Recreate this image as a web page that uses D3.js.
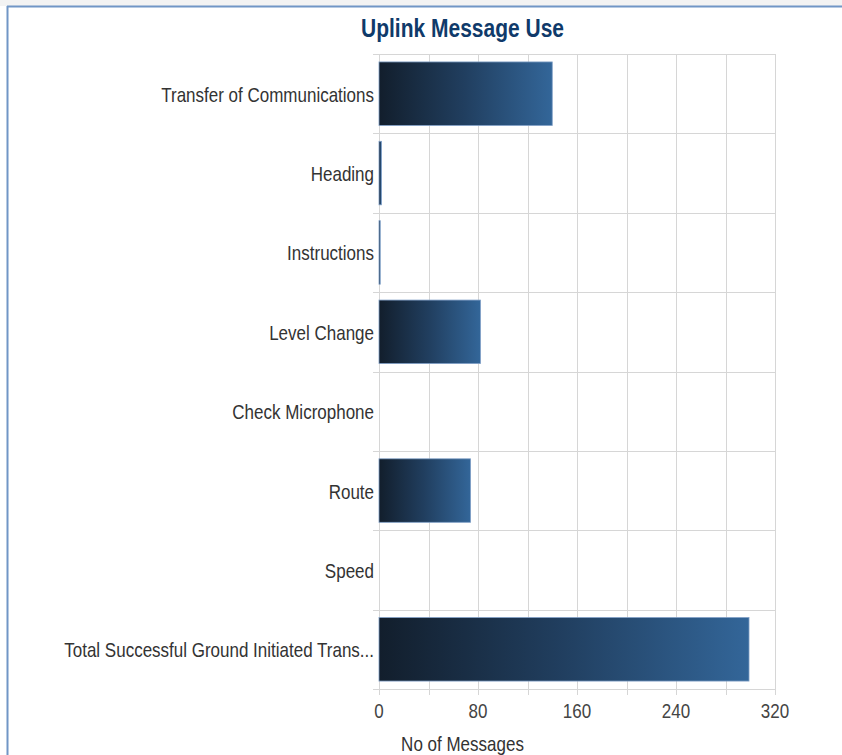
<!DOCTYPE html>
<html>
<head>
<meta charset="utf-8">
<script src="https://cdn.jsdelivr.net/npm/d3@7"></script>
<style>
  html, body { margin: 0; padding: 0; background: #ffffff; }
  svg { display: block; font-family: "Liberation Sans", Arial, Helvetica, sans-serif; }
</style>
</head>
<body>
<svg id="chart" width="842" height="755"></svg>
<script>
const categories = [
  "Transfer of Communications",
  "Heading",
  "Instructions",
  "Level Change",
  "Check Microphone",
  "Route",
  "Speed",
  "Total Successful Ground Initiated Trans..."
];
const values = [140, 2, 1, 82, 0, 74, 0, 299];
const xTicks = [0, 80, 160, 240, 320];
const xGrid = [0, 40, 80, 120, 160, 200, 240, 280, 320];
const titleText = "Uplink Message Use";
const xAxisTitle = "No of Messages";

const svg = d3.select("#chart");
const W = 842, H = 755;
const plot = { left: 379, right: 775, top: 54, bottom: 689 };
const SY = 1.2; // vertical text stretch seen in the reference

// frame
svg.append("rect").attr("x", 0).attr("y", 0).attr("width", W).attr("height", 6).attr("fill", "#f3f3f3");
svg.append("line").attr("x1", 7).attr("x2", W).attr("y1", 6.5).attr("y2", 6.5)
  .attr("stroke", "#7196c6").attr("stroke-width", 2);
svg.append("line").attr("x1", 7.5).attr("x2", 7.5).attr("y1", 6).attr("y2", H)
  .attr("stroke", "#7196c6").attr("stroke-width", 2);

// title
svg.append("text").attr("transform", `translate(462.5,36.5) scale(1,${SY})`).attr("text-anchor", "middle")
  .attr("font-size", 21).attr("font-weight", "bold").attr("fill", "#0f3a6a").text(titleText);

const x = d3.scaleLinear().domain([0, 320]).range([plot.left, plot.right]);
const y = d3.scaleBand().domain(categories).range([plot.top, plot.bottom])
  .paddingInner(0.2).paddingOuter(0.1);

const gridColor = "#d6d6d6";
const boundaries = d3.range(categories.length + 1).map(i => plot.top + i * (plot.bottom - plot.top) / categories.length);
svg.append("g").selectAll("line").data(boundaries).join("line")
  .attr("x1", plot.left - 6).attr("x2", plot.right + 1)
  .attr("y1", d => Math.round(d) + 0.5).attr("y2", d => Math.round(d) + 0.5)
  .attr("stroke", gridColor).attr("stroke-width", 1);
svg.append("g").selectAll("line").data(xGrid).join("line")
  .attr("x1", d => Math.round(x(d)) + 0.5).attr("x2", d => Math.round(x(d)) + 0.5)
  .attr("y1", plot.top).attr("y2", plot.bottom + 6)
  .attr("stroke", gridColor).attr("stroke-width", 1);

// gradient
const defs = svg.append("defs");
const grad = defs.append("linearGradient").attr("id", "barGrad")
  .attr("x1", "0%").attr("x2", "100%").attr("y1", "0%").attr("y2", "0%");
grad.append("stop").attr("offset", "0%").attr("stop-color", "#121e2c");
grad.append("stop").attr("offset", "50%").attr("stop-color", "#213f60");
grad.append("stop").attr("offset", "100%").attr("stop-color", "#336699");

// bars
svg.append("g").selectAll("rect").data(categories.map((c, i) => ({ c, v: values[i] })))
  .join("rect")
  .filter(d => d.v > 0)
  .attr("x", x(0))
  .attr("y", d => y(d.c))
  .attr("width", d => Math.max(1, x(d.v) - x(0)))
  .attr("height", y.bandwidth())
  .attr("fill", "url(#barGrad)")
  .attr("stroke", "#7f9fc6").attr("stroke-width", 0.8);

// y labels
svg.append("g").selectAll("text").data(categories).join("text")
  .attr("transform", d => `translate(${plot.left - 5},${y(d) + y.bandwidth() / 2 + 8}) scale(1,${SY})`)
  .attr("text-anchor", "end")
  .attr("font-size", 17)
  .attr("fill", "#333333")
  .text(d => d);

// x tick labels
svg.append("g").selectAll("text").data(xTicks).join("text")
  .attr("transform", d => `translate(${x(d)},718) scale(1,${SY})`)
  .attr("text-anchor", "middle")
  .attr("font-size", 17)
  .attr("fill", "#444444")
  .text(d => d);

// x axis title
svg.append("text").attr("transform", `translate(462.5,751) scale(1,${SY})`).attr("text-anchor", "middle")
  .attr("font-size", 17).attr("fill", "#333333").text(xAxisTitle);
</script>
</body>
</html>
